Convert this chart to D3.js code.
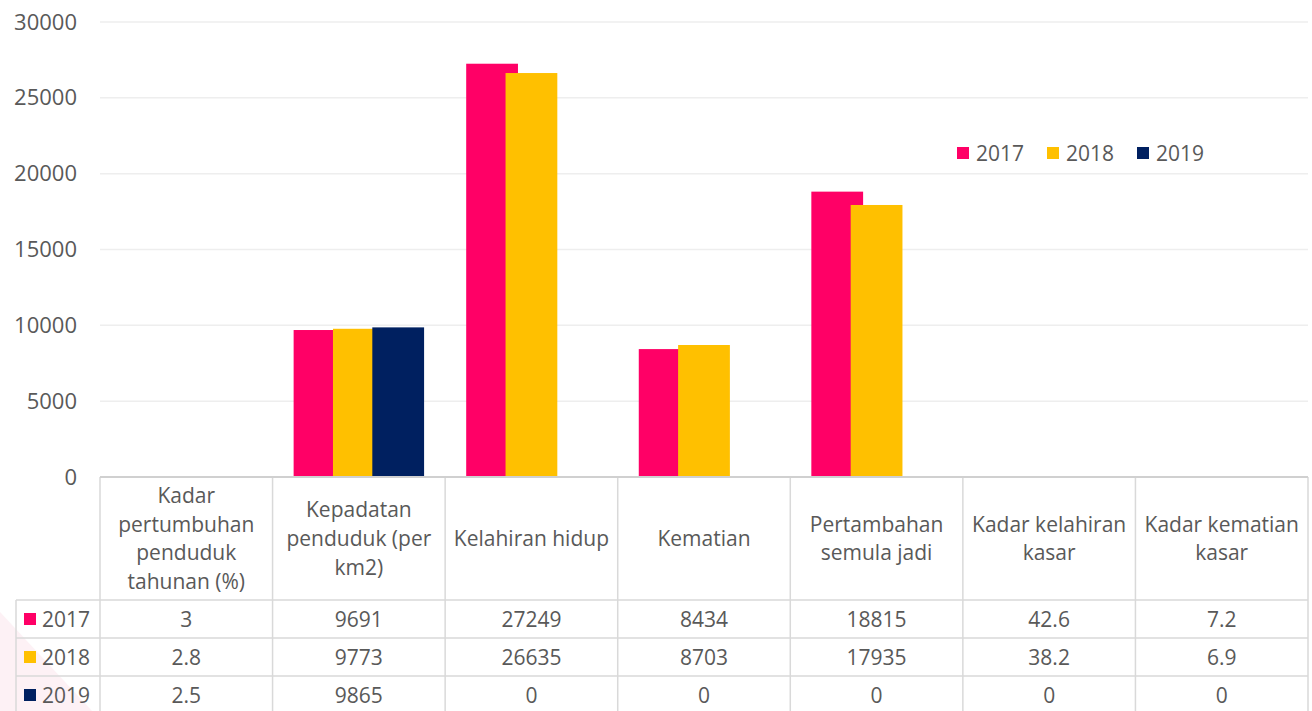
<!DOCTYPE html>
<html>
<head>
<meta charset="utf-8">
<script src="https://cdn.jsdelivr.net/npm/d3@7"></script>
<style>
  body { margin: 0; background: #fff; }
  svg { display: block; font-family: "Open Sans", sans-serif; }
</style>
</head>
<body>
<div id="root"></div>
<script>
// categories (\n marks where the table header wraps)
var categories = [
    "Kadar\npertumbuhan\npenduduk\ntahunan (%)",
    "Kepadatan\npenduduk (per\nkm2)",
    "Kelahiran hidup",
    "Kematian",
    "Pertambahan\nsemula jadi",
    "Kadar kelahiran\nkasar",
    "Kadar kematian\nkasar"
];
var years = ["2017", "2018", "2019"];
var values2017 = [3, 9691, 27249, 8434, 18815, 42.6, 7.2];
var values2018 = [2.8, 9773, 26635, 8703, 17935, 38.2, 6.9];
var values2019 = [2.5, 9865, 0, 0, 0, 0, 0];
var yTicks = [0, 5000, 10000, 15000, 20000, 25000, 30000];
var colors = ["#ff0066", "#ffc000", "#002060"];

var series = [values2017, values2018, values2019];

var W = 1312, H = 711;
var plotLeft = 100, plotRight = 1308, plotTop = 22, plotBottom = 477;
var headerH = 123, rowH = 38;
var textColor = "#595959";

var svg = d3.select("#root")
    .append("svg")
    .attr("width", W)
    .attr("height", H);

// faint watermark in the corner
svg.append("path")
    .attr("d", "M0,612 L92,711 L0,711 Z")
    .attr("fill", "#fdf1f5");

var x = d3.scaleBand()
    .domain(d3.range(categories.length))
    .range([plotLeft, plotRight]);

var y = d3.scaleLinear()
    .domain([0, 30000])
    .range([plotBottom, plotTop]);

// bars overlap a little, like the original
var barW = x.bandwidth() * 0.30;
var step = barW * 0.76;
var groupW = step * 2 + barW;
var x1 = d3.scaleLinear()
    .domain([0, 2])
    .range([(x.bandwidth() - groupW) / 2, (x.bandwidth() - groupW) / 2 + 2 * step]);

// gridlines
svg.append("g")
    .selectAll("line")
    .data(yTicks.slice(1))
    .join("line")
    .attr("x1", plotLeft)
    .attr("x2", plotRight)
    .attr("y1", d => y(d))
    .attr("y2", d => y(d))
    .attr("stroke", "#eeeeee")
    .attr("stroke-width", 1.5);

// y axis labels
var yAxis = svg.append("g")
    .attr("transform", "translate(" + (plotLeft - 23) + ",0)")
    .call(d3.axisLeft(y).tickValues(yTicks).tickFormat(d3.format("d")).tickSize(0).tickPadding(0));
yAxis.select(".domain").remove();
yAxis.selectAll("text")
    .attr("fill", textColor)
    .style("font-size", "22px")
    .style("font-family", "Open Sans, sans-serif");

// bars
series.forEach(function (vals, i) {
    svg.append("g")
        .selectAll("rect")
        .data(vals)
        .join("rect")
        .attr("x", (d, j) => x(j) + x1(i))
        .attr("y", d => y(d))
        .attr("width", barW)
        .attr("height", d => plotBottom - y(d))
        .attr("fill", colors[i]);
});

// legend
var legend = svg.append("g")
    .attr("transform", "translate(957,153)");
var legendX = [0, 90, 180];
years.forEach(function (yr, i) {
    legend.append("rect")
        .attr("x", legendX[i])
        .attr("y", -6)
        .attr("width", 12)
        .attr("height", 12)
        .attr("fill", colors[i]);
    legend.append("text")
        .attr("x", legendX[i] + 19)
        .attr("y", 0)
        .attr("dy", "0.36em")
        .attr("fill", textColor)
        .style("font-size", "21px")
        .text(yr);
});

// data table
var table = svg.append("g");
var gridColor = "#d9d9d9";

// vertical lines
var vx = d3.range(categories.length + 1).map(i => i < categories.length ? x(i) : plotRight);
table.selectAll(".vline")
    .data(vx)
    .join("line")
    .attr("x1", d => d)
    .attr("x2", d => d)
    .attr("y1", plotBottom)
    .attr("y2", H + 5)
    .attr("stroke", gridColor)
    .attr("stroke-width", 1.5);

table.append("line")
    .attr("x1", 16).attr("x2", 16)
    .attr("y1", plotBottom + headerH).attr("y2", H + 5)
    .attr("stroke", gridColor)
    .attr("stroke-width", 1.5);

// horizontal lines
table.selectAll(".hline")
    .data(years.map((d, i) => plotBottom + headerH + i * rowH))
    .join("line")
    .attr("x1", 16)
    .attr("x2", plotRight)
    .attr("y1", d => d)
    .attr("y2", d => d)
    .attr("stroke", gridColor)
    .attr("stroke-width", 1.5);

// axis line on top
svg.append("line")
    .attr("x1", plotLeft)
    .attr("x2", plotRight)
    .attr("y1", plotBottom)
    .attr("y2", plotBottom)
    .attr("stroke", "#d0d0d0")
    .attr("stroke-width", 2);

// header cells
var lineH = 28.7;
categories.forEach(function (c, i) {
    var lines = c.split("\n");
    var cy = plotBottom + headerH / 2 - (lines.length - 1) * lineH / 2;
    var t = table.append("text")
        .attr("text-anchor", "middle")
        .attr("fill", textColor)
        .style("font-size", "21px");
    lines.forEach(function (ln, k) {
        t.append("tspan")
            .attr("x", x(i) + x.bandwidth() / 2)
            .attr("y", cy + k * lineH)
            .attr("dy", "0.36em")
            .text(ln);
    });
});

// rows
years.forEach(function (yr, r) {
    var cy = plotBottom + headerH + r * rowH + rowH / 2;
    table.append("rect")
        .attr("x", 24)
        .attr("y", cy - 6)
        .attr("width", 12)
        .attr("height", 12)
        .attr("fill", colors[r]);
    table.append("text")
        .attr("x", 42)
        .attr("y", cy)
        .attr("dy", "0.36em")
        .attr("fill", textColor)
        .style("font-size", "21px")
        .text(yr);
    table.append("g")
        .selectAll("text")
        .data(series[r])
        .join("text")
        .attr("x", (d, j) => x(j) + x.bandwidth() / 2)
        .attr("y", cy)
        .attr("dy", "0.36em")
        .attr("text-anchor", "middle")
        .attr("fill", textColor)
        .style("font-size", "21px")
        .text(d => d);
});
</script>
</body>
</html>
